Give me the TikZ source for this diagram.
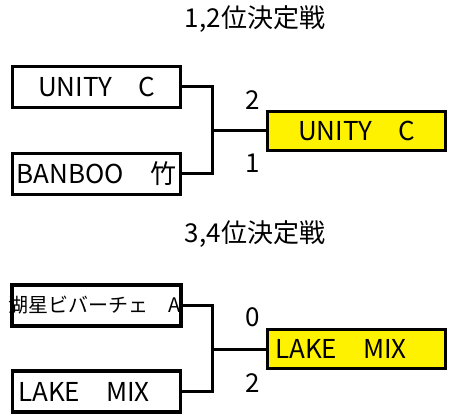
\documentclass[tikz,border=0pt]{standalone}
\usepackage{fontspec}
\setmainfont{Noto Sans CJK JP}
\usetikzlibrary{positioning}

\begin{document}
\begin{tikzpicture}[x=1pt, y=-1pt, every node/.style={font=\fontsize{26}{30}\selectfont},
    team/.style={draw, line width=3.5pt, minimum width=168pt, minimum height=41pt, inner sep=0pt},
    winner/.style={team, fill=yellow, minimum width=178pt, minimum height=39pt},
    score/.style={font=\fontsize{26}{30}\selectfont},
    link/.style={line width=3pt}]
  \useasboundingbox (0,0) rectangle (452,414);
  % 1,2位
  \node (title12) at (255,19) {1,2位決定戦};
  \node[team] (unity) at (96.5,87) {UNITY　C};
  \node[team] (banboo) at (96.5,174) {BANBOO　竹};
  \coordinate (join12) at (212,131);
  \node[winner] (final12) at (356.5,131) {UNITY　C};
  \draw[link] (unity.east) -| (join12) |- (banboo.east);
  \draw[link] (join12) -- (final12.west);
  \node[score] (unityscore) at (253,100) {2};
  \node[score] (banbooscore) at (253,163) {1};
  % 3,4位
  \node (title34) at (255,234) {3,4位決定戦};
  \node[team, font=\fontsize{20}{24}\selectfont] (kosei) at (96.5,305.5) {\makebox[169pt][r]{湖星ビバーチェ　A}};
  \node[team] (lake) at (96.5,391.5) {\makebox[157pt][l]{LAKE　MIX}};
  \coordinate (join34) at (212,349);
  \node[winner] (final34) at (356.5,349) {\makebox[163pt][l]{LAKE　MIX}};
  \draw[link] (kosei.east) -| (join34) |- (lake.east);
  \draw[link] (join34) -- (final34.west);
  \node[score] (koseiscore) at (253,317) {0};
  \node[score] (lakescore) at (253,383) {2};
\end{tikzpicture}
\end{document}
